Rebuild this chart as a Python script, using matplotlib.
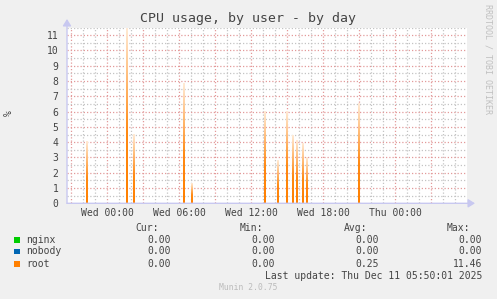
import matplotlib
matplotlib.use("Agg")
import matplotlib.pyplot as plt
import numpy as np
from matplotlib.colors import LinearSegmentedColormap
from matplotlib.patches import Rectangle, FancyArrowPatch

# hours from Wed 00:00, one 5-minute sample each
ROOT_HOURS = [-1.75, 1.62, 2.17, 6.33, 7.0, 13.08, 14.17, 14.92, 15.42,
              15.78, 16.25, 16.62, 20.95]
ROOT_VALUES = [4.0, 11.46, 4.5, 7.8, 1.3, 6.0, 2.8, 6.0, 4.4, 4.1, 3.9, 3.0, 6.5]

X_TICKS = [0, 6, 12, 18, 24]
X_LABELS = ["Wed 00:00", "Wed 06:00", "Wed 12:00", "Wed 18:00", "Thu 00:00"]
Y_TICKS = list(range(0, 12))

SERIES = ["nginx", "nobody", "root"]
COLORS = ["#00CC00", "#0066B3", "#FF8000"]
CUR = ["0.00", "0.00", "0.00"]
MIN = ["0.00", "0.00", "0.00"]
AVG = ["0.00", "0.00", "0.25"]
MAX = ["0.00", "0.00", "11.46"]

W, H = 497, 299
BG = "#F0F0F0"
TXT = "#444444"
AXC = "#C8C8F0"
MONO = "DejaVu Sans Mono"
RED = "#E39A9A"
GRAY = "#C4C4C4"


def fx(x):
    return x / W


def fy(y):
    return 1 - y / H


fig = plt.figure(figsize=(W / 100, H / 100), dpi=100, facecolor=BG)
ax = fig.add_axes([fx(67), fy(203.3), 400 / W, 175.8 / H])
ax.set_facecolor("white")

x0, x1 = -3.36, 29.97
step = 5 / 60
cmap = LinearSegmentedColormap.from_list(
    "fade", [(0, "#FF8000"), (0.4, "#FF8A14"), (1, "#FFEAD4")])
grad = np.linspace(0, 1, 64).reshape(-1, 1)
for h, v in zip(ROOT_HOURS, ROOT_VALUES):
    ax.imshow(grad, cmap=cmap, origin="lower", aspect="auto",
              extent=[h - step / 2, h + step / 2, 0, v], zorder=3,
              interpolation="bilinear")

# grid: hour / 3-hour, half unit / unit
for h in np.arange(-3, 30, 1):
    c = RED if h % 3 == 0 else GRAY
    ax.axvline(h, color=c, lw=0.9, ls=(0, (1, 1.6)), zorder=1)
for y in np.arange(0.5, 11.6, 0.5):
    c = RED if y % 1 == 0 else GRAY
    ax.axhline(y, color=c, lw=0.9, ls=(0, (1, 1.6)), zorder=1)

ax.set_xlim(x0, x1)
ax.set_ylim(0, 11.5)
ax.set_xticks(X_TICKS)
ax.set_xticklabels(X_LABELS)
ax.set_yticks(Y_TICKS)
ax.tick_params(length=0, labelsize=7, labelcolor=TXT)
ax.tick_params(axis="y", pad=6)
ax.tick_params(axis="x", pad=3.5)
for lab in ax.get_xticklabels() + ax.get_yticklabels():
    lab.set_family(MONO)
for s in ax.spines.values():
    s.set_visible(False)

# axes with arrows
for end in [(fx(67), fy(19)), (fx(475), fy(203.3))]:
    fig.add_artist(FancyArrowPatch(
        (fx(67), fy(203.3)), end, transform=fig.transFigure,
        arrowstyle="-|>,head_length=4,head_width=2.5", color=AXC, lw=1,
        shrinkA=0, shrinkB=0))

fig.text(fx(248), fy(18.5), "CPU usage, by user - by day", ha="center",
         va="center", fontsize=9.5, color=TXT, family=MONO)
fig.text(fx(9), fy(113), "%", ha="center", va="center", rotation=90,
         fontsize=7, color=TXT, family=MONO)
fig.text(fx(488), fy(4), "RRDTOOL / TOBI OETIKER", ha="center", va="top",
         rotation=270, fontsize=6, color="#C0C0C0", family=MONO)

# legend table
cols = [171, 275, 379, 482]
heads = ["Cur:", "Min:", "Avg:", "Max:"]
for cx, hd in zip(cols, heads):
    fig.text(fx(cx - 12), fy(228), hd, ha="right", va="center", fontsize=7,
             color=TXT, family=MONO)
rows = [239.7, 251.5, 263.7]
for i, name in enumerate(SERIES):
    y = rows[i]
    fig.add_artist(Rectangle((fx(14), fy(y + 2.8)), 5.6 / W, 5.6 / H,
                             transform=fig.transFigure, color=COLORS[i], lw=0))
    fig.text(fx(26.5), fy(y), name, ha="left", va="center", fontsize=7,
             color=TXT, family=MONO)
    for cx, vals in zip(cols, [CUR, MIN, AVG, MAX]):
        fig.text(fx(cx), fy(y), vals[i], ha="right", va="center", fontsize=7,
                 color=TXT, family=MONO)
fig.text(fx(482), fy(275.7), "Last update: Thu Dec 11 05:50:01 2025",
         ha="right", va="center", fontsize=7, color=TXT, family=MONO)
fig.text(fx(248), fy(287.7), "Munin 2.0.75", ha="center", va="center",
         fontsize=5.8, color="#BBBBBB", family=MONO)

fig.savefig("out.png", dpi=100, facecolor=BG)
